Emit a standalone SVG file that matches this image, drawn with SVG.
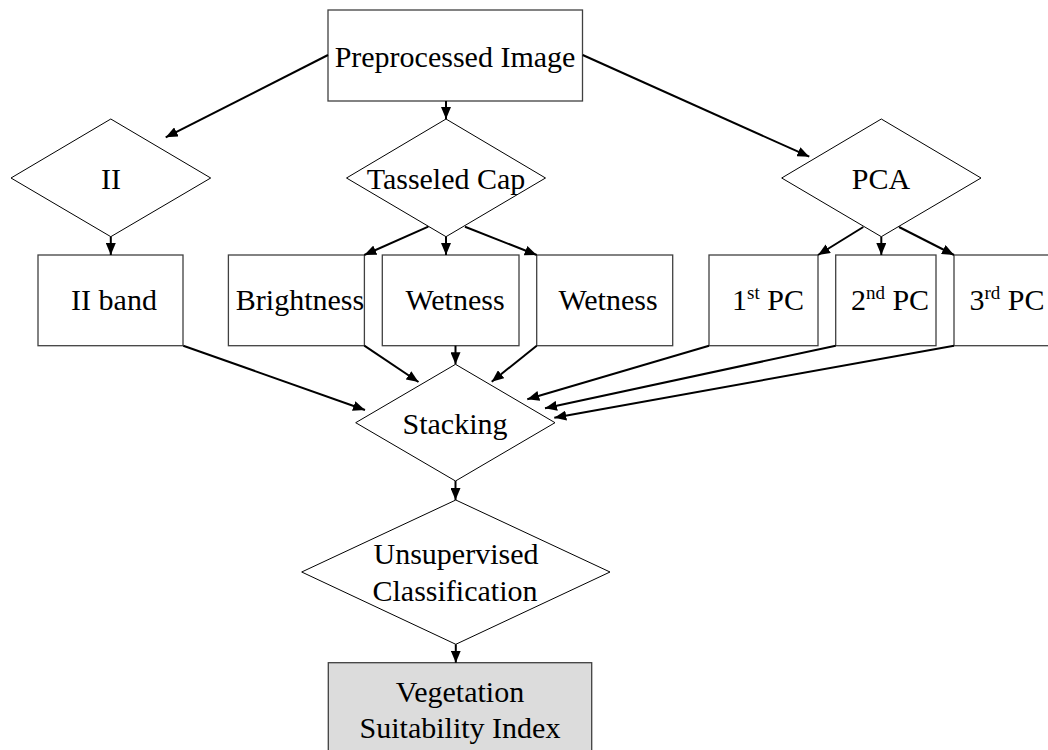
<svg xmlns="http://www.w3.org/2000/svg" width="1048" height="750" viewBox="0 0 1048 750">
<style>
text{font-family:"Liberation Serif","Times New Roman",serif;font-size:30px;fill:#000;text-anchor:middle}
.box{fill:#fff;stroke:#404040;stroke-width:1.3}
.dia{fill:#fff;stroke:#000;stroke-width:1}
.gray{fill:#dcdcdc}
.c line{stroke:#000;stroke-width:2;fill:none;marker-end:url(#ah)}
.sup{font-size:19px}
</style>
<defs>
<marker id="ah" markerUnits="userSpaceOnUse" viewBox="0 0 12 10" refX="12" refY="5" markerWidth="12" markerHeight="10" orient="auto">
<path d="M0,0 L12,5 L0,10 z" fill="#000"/>
</marker>
</defs>
<rect width="1048" height="750" fill="#fff"/>
<g id="preprocessed"><rect class="box" x="328" y="10" width="254.5" height="91"/><text x="455" y="67">Preprocessed Image</text></g>
<g id="ii"><polygon class="dia" points="11,178 110.8,119 210.7,178 110.8,236.7"/><text x="111" y="189">II</text></g>
<g id="tasseled"><polygon class="dia" points="346.5,178 446,119 545.5,178 446,236.7"/><text x="446" y="189">Tasseled Cap</text></g>
<g id="pca"><polygon class="dia" points="781.7,178 881.3,119 981,178 881.3,236.7"/><text x="881" y="189">PCA</text></g>
<g id="iiband"><rect class="box" x="38" y="255" width="145" height="90.7"/><text x="114" y="310">II band</text></g>
<g id="brightness"><rect class="box" x="228.4" y="255" width="136" height="90.7"/><text x="300" y="310">Brightness</text></g>
<g id="wetness1"><rect class="box" x="382.3" y="255" width="136.7" height="90.7"/><text x="455" y="310">Wetness</text></g>
<g id="wetness2"><rect class="box" x="536.7" y="255" width="136" height="90.7"/><text x="608" y="310">Wetness</text></g>
<g id="pc1"><rect class="box" x="709" y="255" width="109" height="90.7"/><text x="768" y="310">1<tspan class="sup" dy="-11">st</tspan><tspan dy="11"> PC</tspan></text></g>
<g id="pc2"><rect class="box" x="835.7" y="255" width="100.3" height="90.7"/><text x="890" y="310">2<tspan class="sup" dy="-11">nd</tspan><tspan dy="11"> PC</tspan></text></g>
<g id="pc3"><rect class="box" x="954" y="255" width="140" height="90.7"/><text x="1007" y="310">3<tspan class="sup" dy="-11">rd</tspan><tspan dy="11"> PC</tspan></text></g>
<g id="stacking"><polygon class="dia" points="355.7,422.7 455.5,364.3 555,422.7 455.5,481"/><text x="455" y="434">Stacking</text></g>
<g id="unsupervised"><polygon class="dia" points="301.7,572 455.8,500 610,572 455.8,644.3"/><text x="456" y="564">Unsupervised</text><text x="455" y="601">Classification</text></g>
<g id="vsi"><rect class="box gray" x="328.3" y="662.7" width="263.4" height="100"/><text x="460" y="701.5">Vegetation</text><text x="460" y="737.5">Suitability Index</text></g>
<g id="connectors" class="c">
<line x1="328" y1="55" x2="165.7" y2="137.3"/>
<line x1="446" y1="101" x2="446" y2="119"/>
<line x1="582.7" y1="55" x2="809.3" y2="156.7"/>
<line x1="110.8" y1="236.7" x2="110.8" y2="255"/>
<line x1="428.3" y1="226.7" x2="364.3" y2="255"/>
<line x1="446" y1="236.7" x2="446" y2="255"/>
<line x1="465" y1="226.7" x2="536.7" y2="255"/>
<line x1="863.3" y1="227" x2="818" y2="255"/>
<line x1="881.3" y1="236.7" x2="881.3" y2="255"/>
<line x1="899" y1="227" x2="954" y2="255"/>
<line x1="183.3" y1="345.7" x2="365" y2="410"/>
<line x1="364.3" y1="345.7" x2="418.5" y2="382"/>
<line x1="455.5" y1="345.7" x2="455.5" y2="364.3"/>
<line x1="536.7" y1="345.7" x2="491.7" y2="381.7"/>
<line x1="709" y1="345.7" x2="527.3" y2="399.3"/>
<line x1="835.7" y1="345.7" x2="545" y2="408.3"/>
<line x1="954" y1="345.7" x2="554.3" y2="417.7"/>
<line x1="455.5" y1="481" x2="455.5" y2="500"/>
<line x1="455.8" y1="644.3" x2="455.8" y2="662.7"/>
</g>
</svg>
